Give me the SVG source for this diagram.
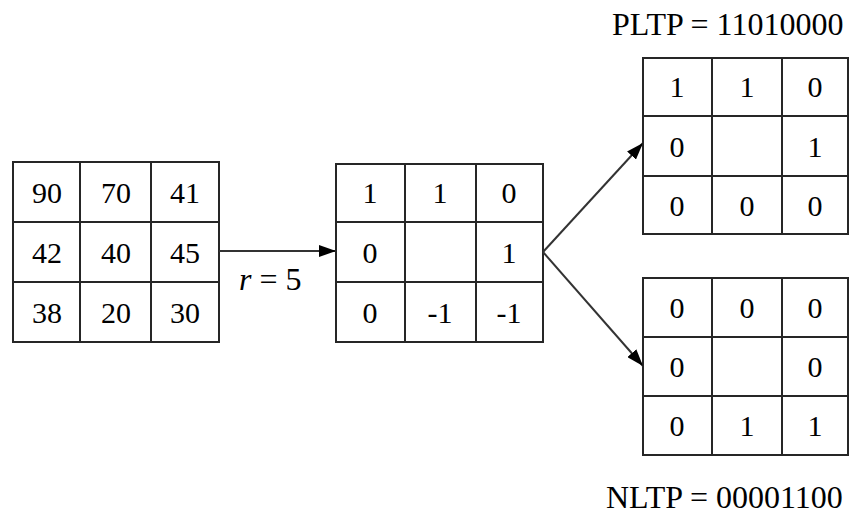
<svg xmlns="http://www.w3.org/2000/svg" width="853" height="519" viewBox="0 0 853 519">
<style>
.cell{fill:#fff;stroke:#262626;stroke-width:2}
.ln{stroke:#262626;stroke-width:2}
.t{font-family:"Liberation Serif","Times New Roman",serif;font-size:30px;fill:#000;text-anchor:middle}
.lbl{font-family:"Liberation Serif","Times New Roman",serif;font-size:32px;fill:#000}
.conn{stroke:#333;stroke-width:2;fill:none}
</style>
<defs>
<marker id="ah" viewBox="0 0 17 12" refX="17" refY="6" markerWidth="17" markerHeight="12" markerUnits="userSpaceOnUse" orient="auto">
<path d="M0,0 L17,6 L0,12 Z" fill="#000"/>
</marker>
</defs>
<rect width="853" height="519" fill="#fff"/>

<g id="input">
<rect class="cell" x="13" y="162" width="206" height="180"/>
<line class="ln" x1="80" y1="162" x2="80" y2="342"/>
<line class="ln" x1="151" y1="162" x2="151" y2="342"/>
<line class="ln" x1="13" y1="222" x2="219" y2="222"/>
<line class="ln" x1="13" y1="282" x2="219" y2="282"/>
<text class="t" x="47" y="203">90</text><text class="t" x="116" y="203">70</text><text class="t" x="185" y="203">41</text>
<text class="t" x="47" y="263">42</text><text class="t" x="116" y="263">40</text><text class="t" x="185" y="263">45</text>
<text class="t" x="47" y="323">38</text><text class="t" x="116" y="323">20</text><text class="t" x="185" y="323">30</text>
</g>

<g id="ternary">
<rect class="cell" x="336" y="164" width="207" height="178"/>
<line class="ln" x1="405" y1="164" x2="405" y2="342"/>
<line class="ln" x1="476" y1="164" x2="476" y2="342"/>
<line class="ln" x1="336" y1="222" x2="543" y2="222"/>
<line class="ln" x1="336" y1="282" x2="543" y2="282"/>
<text class="t" x="370" y="203">1</text><text class="t" x="440" y="203">1</text><text class="t" x="509" y="203">0</text>
<text class="t" x="370" y="263">0</text><text class="t" x="509" y="263">1</text>
<text class="t" x="370" y="323">0</text><text class="t" x="440" y="323">-1</text><text class="t" x="509" y="323">-1</text>
</g>

<g id="pltp">
<text class="lbl" x="612" y="35">PLTP = 11010000</text>
<rect class="cell" x="643" y="58" width="205" height="176"/>
<line class="ln" x1="712" y1="58" x2="712" y2="234"/>
<line class="ln" x1="782" y1="58" x2="782" y2="234"/>
<line class="ln" x1="643" y1="116" x2="848" y2="116"/>
<line class="ln" x1="643" y1="176" x2="848" y2="176"/>
<text class="t" x="677" y="97">1</text><text class="t" x="747" y="97">1</text><text class="t" x="815" y="97">0</text>
<text class="t" x="677" y="157">0</text><text class="t" x="815" y="157">1</text>
<text class="t" x="677" y="216">0</text><text class="t" x="747" y="216">0</text><text class="t" x="815" y="216">0</text>
</g>

<g id="nltp">
<rect class="cell" x="643" y="278" width="205" height="177"/>
<line class="ln" x1="712" y1="278" x2="712" y2="455"/>
<line class="ln" x1="782" y1="278" x2="782" y2="455"/>
<line class="ln" x1="643" y1="337" x2="848" y2="337"/>
<line class="ln" x1="643" y1="396" x2="848" y2="396"/>
<text class="t" x="677" y="318">0</text><text class="t" x="747" y="318">0</text><text class="t" x="815" y="318">0</text>
<text class="t" x="677" y="377">0</text><text class="t" x="815" y="377">0</text>
<text class="t" x="677" y="436">0</text><text class="t" x="747" y="436">1</text><text class="t" x="815" y="436">1</text>
<text class="lbl" x="606" y="508">NLTP = 00001100</text>
</g>

<g id="connectors">
<line class="conn" x1="219" y1="251" x2="336" y2="251" marker-end="url(#ah)"/>
<text class="lbl" x="239" y="290" font-size="31"><tspan font-style="italic">r</tspan> = 5</text>
<line class="conn" x1="543" y1="252" x2="643" y2="143" marker-end="url(#ah)"/>
<line class="conn" x1="543" y1="252" x2="643" y2="366" marker-end="url(#ah)"/>
</g>
</svg>
